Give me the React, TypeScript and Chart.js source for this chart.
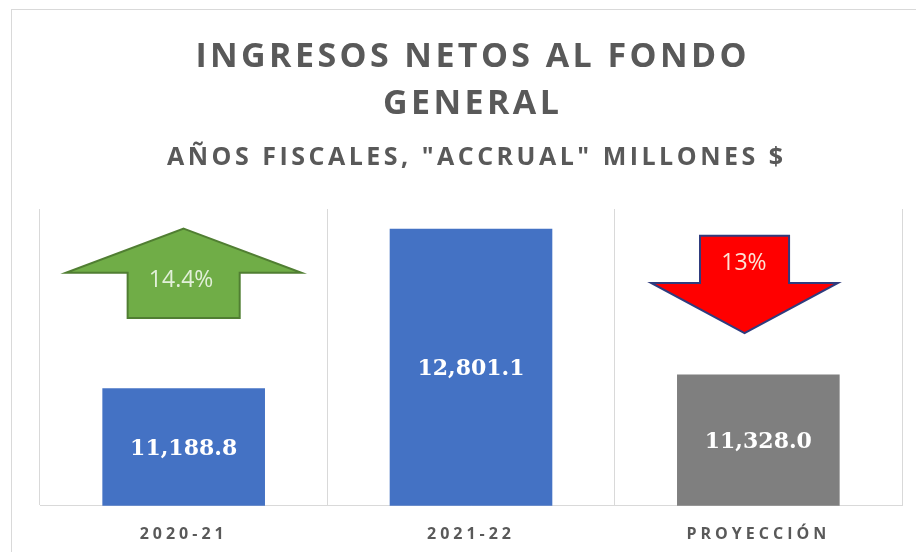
import React, { useEffect, useRef } from "react";
import { Chart, registerables } from "chart.js";

Chart.register(...registerables);

const categories = ["2020-21", "2021-22", "PROYECCIÓN"];
const values = [11188.8, 12801.1, 11328.0];
const barColors = ["#4472C4", "#4472C4", "#7F7F7F"];
const yMin = 10000;
const yMax = 13000;
const titleLines = ["INGRESOS NETOS AL FONDO", "GENERAL"];
const subtitleText = 'AÑOS FISCALES, "ACCRUAL" MILLONES $';

// change arrows: anchored to a category index, vertical extents in value units
const arrowIndex = [0, 2];
const arrowLabels = ["14.4%", "13%"];
const arrowTip = [12801, 11746];
const arrowWing = [12355, 12253];
const arrowEnd = [11898, 12730];
const arrowLabelValue = [12278, 12446];

const arrowStyle = [
  { offset: 0, labelOffset: -0.009, wingHalf: 0.41, shaftHalf: 0.195, fill: "#70AD47", stroke: "#507E32", text: "#E2F0D9" },
  { offset: -0.048, labelOffset: -0.05, wingHalf: 0.325, shaftHalf: 0.155, fill: "#FF0000", stroke: "#2F3C7E", text: "#FCE4D6" },
];

const fmt = (v: number) =>
  v.toLocaleString("en-US", { minimumFractionDigits: 1, maximumFractionDigits: 1 });

const decorPlugin = {
  id: "decor",
  beforeDraw(chart: any) {
    const ctx = chart.ctx;
    ctx.save();
    ctx.fillStyle = "#FFFFFF";
    ctx.fillRect(0, 0, chart.width, chart.height);
    ctx.strokeStyle = "#D9D9D9";
    ctx.lineWidth = 1;
    ctx.strokeRect(11.5, 9.5, 2000, 2000);
    ctx.fillStyle = "#595959";
    ctx.textAlign = "left";
    ctx.textBaseline = "middle";
    const drawSpaced = (text: string, cx: number, cy: number, font: string, spacing: number) => {
      ctx.font = font;
      (ctx as any).letterSpacing = spacing + "px";
      const w = ctx.measureText(text).width - spacing;
      ctx.fillText(text, cx - w / 2, cy);
      (ctx as any).letterSpacing = "0px";
    };
    const titleFont = "bold 34px 'Open Sans'";
    drawSpaced(titleLines[0], 471, 57, titleFont, 3.4);
    drawSpaced(titleLines[1], 471, 104, titleFont, 3.4);
    drawSpaced(subtitleText, 475, 158, "bold 25px 'Open Sans'", 3.5);
    ctx.restore();
    (ctx as any).letterSpacing = "4px";
  },
  beforeDatasetsDraw(chart: any) {
    (chart.ctx as any).letterSpacing = "0px";
  },
  afterDatasetsDraw(chart: any) {
    const ctx = chart.ctx;
    const xs = chart.scales.x;
    const ys = chart.scales.y;
    ctx.save();
    (ctx as any).letterSpacing = "0px";
    ctx.fillStyle = "#FFFFFF";
    ctx.font = "bold 22px 'DejaVu Serif'";
    ctx.textAlign = "center";
    ctx.textBaseline = "middle";
    values.forEach((v, i) => {
      const top = ys.getPixelForValue(v);
      const base = ys.getPixelForValue(yMin);
      ctx.fillText(fmt(v), xs.getPixelForValue(i), (top + base) / 2 + 2);
    });
    const catW = xs.width / categories.length;
    arrowIndex.forEach((idx, k) => {
      const st = arrowStyle[k];
      const cx = xs.getPixelForValue(idx) + st.offset * catW;
      const tip = ys.getPixelForValue(arrowTip[k]);
      const wing = ys.getPixelForValue(arrowWing[k]);
      const end = ys.getPixelForValue(arrowEnd[k]);
      const wh = st.wingHalf * catW;
      const sh = st.shaftHalf * catW;
      ctx.beginPath();
      ctx.moveTo(cx, tip);
      ctx.lineTo(cx + wh, wing);
      ctx.lineTo(cx + sh, wing);
      ctx.lineTo(cx + sh, end);
      ctx.lineTo(cx - sh, end);
      ctx.lineTo(cx - sh, wing);
      ctx.lineTo(cx - wh, wing);
      ctx.closePath();
      ctx.fillStyle = st.fill;
      ctx.fill();
      ctx.strokeStyle = st.stroke;
      ctx.lineWidth = 2;
      ctx.lineJoin = "miter";
      ctx.stroke();
      ctx.fillStyle = st.text;
      ctx.font = "23px 'Open Sans'";
      ctx.fillText(
        arrowLabels[k],
        xs.getPixelForValue(idx) + st.labelOffset * catW,
        ys.getPixelForValue(arrowLabelValue[k])
      );
    });
    ctx.restore();
  },
};

export default function App() {
  const ref = useRef<HTMLCanvasElement | null>(null);
  useEffect(() => {
    if (!ref.current) return;
    const chart = new Chart(ref.current, {
      type: "bar",
      data: {
        labels: categories,
        datasets: [
          {
            data: values,
            backgroundColor: barColors,
            borderWidth: 0,
            categoryPercentage: 1,
            barPercentage: 0.566,
          },
        ],
      },
      options: {
        responsive: false,
        animation: false,
        devicePixelRatio: 1,
        layout: { padding: { left: 40, right: 14, top: 209, bottom: 10 } },
        plugins: {
          legend: { display: false },
          title: { display: false },
          tooltip: { enabled: false },
        },
        scales: {
          x: {
            grid: { display: true, color: "#D9D9D9", drawTicks: false, offset: true, lineWidth: 1 },
            border: { display: true, color: "#D9D9D9" },
            ticks: {
              color: "#595959",
              padding: 19,
              font: { family: "'Open Sans'", size: 16, weight: "bold" },
            },
          },
          y: {
            display: false,
            min: yMin,
            max: yMax,
          },
        },
      },
      plugins: [decorPlugin],
    });
    return () => chart.destroy();
  }, []);
  return (
    <div style={{ position: "fixed", left: 0, top: 0, width: 916, height: 552, overflow: "hidden", background: "#fff" }}>
      <canvas ref={ref} width={916} height={573} style={{ display: "block" }} />
    </div>
  );
}
